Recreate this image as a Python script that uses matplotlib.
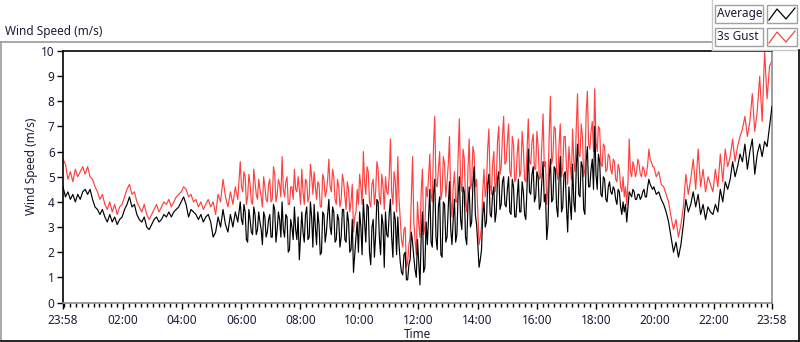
import numpy as np
import matplotlib
matplotlib.use("Agg")
import matplotlib.pyplot as plt
from matplotlib.lines import Line2D
from matplotlib.patches import Rectangle

plt.rcParams['font.family'] = ['Noto Sans', 'DejaVu Sans']

# Samples starting at 23:58; one row per hour (12 values = 5-min, 24 values = 2.5-min)
gust_rows = [
    [5.7, 5.5, 4.9, 5.2, 4.8, 5.3, 5.0, 5.2, 5.4, 5.1, 5.4, 5.0],
    [4.9, 4.6, 4.4, 4.1, 4.3, 3.9, 3.7, 4.0, 3.6, 3.9, 3.5, 3.8],
    [3.9, 4.2, 4.5, 4.7, 4.3, 4.4, 4.0, 3.8, 3.6, 3.9, 3.5, 3.3],
    [3.5, 3.7, 3.9, 3.6, 3.8, 4.0, 3.9, 4.1, 3.8, 4.0, 4.2, 4.3],
    [4.4, 4.6, 4.5, 4.2, 4.3, 4.0, 4.1, 3.8, 4.0, 3.7, 3.9, 4.1],
    [3.8, 4.0, 3.5, 4.3, 4.0, 4.9, 4.2, 3.8, 4.4, 3.9, 4.6, 4.1],
    [5.6, 4.6, 4.4, 5.2, 5.0, 3.9, 4.2, 5.1, 4.7, 4.0, 3.9, 5.3,
     4.8, 4.3, 4.1, 4.9, 4.5, 4.2, 3.8, 5.0, 4.6, 4.1, 4.0, 4.7],
    [4.9, 4.0, 4.1, 5.4, 5.1, 4.0, 4.3, 4.9, 4.7, 4.2, 5.8, 4.5,
     4.2, 4.8, 5.0, 3.9, 3.9, 4.6, 4.6, 4.1, 5.3, 4.5, 4.4, 5.0],
    [4.5, 3.9, 5.3, 4.4, 3.9, 4.9, 4.8, 4.0, 4.2, 5.5, 5.0, 4.3,
     5.2, 4.6, 4.1, 4.8, 4.7, 3.8, 3.8, 5.1, 4.9, 4.2, 4.4, 4.9],
    [5.7, 4.6, 4.4, 5.3, 5.0, 4.1, 3.9, 4.9, 4.6, 3.8, 4.1, 5.1,
     4.8, 4.2, 3.7, 4.8, 4.5, 3.6, 4.0, 4.7, 2.8, 3.4, 3.6, 4.5],
    [3.9, 5.1, 4.6, 3.9, 6.0, 4.8, 4.3, 5.4, 5.2, 4.0, 3.8, 4.7,
     4.9, 3.9, 4.4, 5.6, 5.3, 4.2, 3.9, 5.1, 4.6, 3.7, 5.0, 4.4],
    [4.3, 5.0, 6.5, 4.4, 3.9, 5.2, 4.8, 3.6, 5.8, 4.1, 3.3, 2.5,
     2.2, 2.9, 3.0, 1.4, 1.6, 2.3, 2.6, 4.2, 5.8, 3.2, 2.5, 1.9],
    [4.0, 3.1, 2.6, 4.4, 5.3, 2.7, 3.0, 4.6, 4.2, 5.0, 5.9, 4.3,
     4.0, 6.2, 7.4, 4.7, 4.6, 5.3, 6.0, 4.1, 4.4, 5.8, 5.5, 4.2],
    [4.8, 5.5, 6.6, 4.1, 3.4, 4.6, 5.2, 4.0, 4.0, 5.8, 7.3, 4.8,
     4.4, 6.1, 5.7, 4.0, 3.6, 5.3, 6.5, 4.5, 4.7, 6.2, 5.9, 4.6],
    [4.9, 3.6, 2.3, 2.6, 3.0, 4.4, 5.3, 4.2, 4.6, 6.1, 6.9, 4.7,
     4.3, 5.5, 6.0, 4.4, 4.8, 6.4, 7.0, 5.1, 5.4, 6.6, 7.4, 5.5],
    [5.6, 6.4, 7.1, 5.2, 5.0, 6.6, 6.3, 4.8, 4.9, 5.9, 6.5, 5.0,
     5.2, 6.8, 6.1, 4.9, 4.8, 6.0, 7.3, 5.6, 5.5, 6.4, 6.7, 5.3],
    [5.3, 6.8, 6.2, 4.9, 5.0, 6.3, 7.5, 5.4, 5.6, 3.9, 4.6, 6.7,
     8.2, 5.5, 5.8, 7.0, 6.9, 5.2, 4.9, 6.3, 7.1, 5.0, 5.4, 6.6],
    [6.6, 5.4, 4.7, 6.2, 5.5, 4.9, 6.9, 5.6, 5.2, 7.0, 8.3, 5.9,
     5.8, 7.1, 6.6, 5.0, 5.3, 7.5, 8.4, 6.3, 6.1, 6.8, 7.2, 6.0],
    [8.5, 6.4, 6.0, 7.0, 6.9, 5.5, 5.4, 6.3, 6.2, 5.2, 5.3, 5.9,
     5.8, 5.3, 5.1, 5.7, 5.6, 4.9, 4.8, 5.5, 5.3, 4.6, 4.4, 5.0],
    [4.2, 4.6, 3.9, 4.8, 6.5, 5.2, 5.0, 5.6, 5.4, 5.0, 5.2, 5.7,
     5.5, 5.1, 5.0, 5.4, 5.3, 5.0, 5.1, 5.5, 6.1, 5.7, 5.6, 5.4],
    [5.4, 5.0, 5.2, 4.7, 4.6, 4.3, 4.0, 3.4, 2.9, 3.3, 2.6, 3.1],
    [3.8, 5.1, 4.3, 4.9, 5.7, 4.5, 6.1, 4.6, 5.3, 4.4, 5.0, 4.7],
    [4.4, 5.3, 4.6, 5.9, 4.8, 6.1, 5.4, 5.8, 6.5, 5.6, 6.2, 6.6],
    [6.9, 7.4, 6.6, 7.2, 8.3, 6.8, 7.6, 9.0, 7.2, 10.0, 8.1, 9.4],
    [9.6],
]
avg_rows = [
    [4.6, 4.2, 4.4, 4.1, 4.3, 4.0, 4.3, 4.1, 4.4, 4.5, 4.3, 4.5],
    [4.1, 3.8, 3.7, 3.5, 3.7, 3.4, 3.2, 3.5, 3.2, 3.4, 3.1, 3.3],
    [3.4, 3.7, 3.9, 4.2, 3.8, 3.9, 3.5, 3.3, 3.2, 3.4, 3.0, 2.9],
    [3.1, 3.3, 3.4, 3.2, 3.3, 3.5, 3.4, 3.6, 3.4, 3.6, 3.7, 3.8],
    [4.0, 4.2, 3.9, 3.4, 3.7, 3.6, 3.5, 3.3, 3.5, 3.2, 3.4, 3.5],
    [3.2, 2.6, 2.8, 3.4, 3.0, 3.7, 3.1, 2.8, 3.5, 3.0, 3.6, 3.2],
    [4.0, 3.3, 3.1, 3.9, 3.6, 2.5, 2.4, 3.7, 3.3, 2.8, 2.7, 3.8,
     3.5, 2.7, 2.9, 3.6, 3.2, 2.9, 2.3, 3.6, 3.4, 2.6, 2.8, 3.3],
    [3.5, 2.6, 2.6, 3.9, 3.7, 2.4, 2.9, 3.6, 3.3, 2.6, 4.0, 2.9,
     2.6, 3.5, 3.4, 2.0, 2.1, 3.3, 3.0, 2.5, 3.8, 2.9, 2.5, 3.4],
    [1.7, 2.6, 3.6, 2.8, 2.4, 3.5, 3.8, 2.5, 2.6, 4.0, 3.4, 2.2,
     3.9, 3.0, 2.3, 3.6, 3.1, 1.9, 2.0, 3.6, 3.5, 2.4, 2.8, 3.5],
    [4.1, 3.0, 2.7, 3.8, 3.6, 2.4, 2.5, 3.5, 3.3, 2.2, 2.6, 3.7,
     3.7, 2.5, 2.4, 3.6, 3.2, 2.0, 2.1, 3.3, 1.2, 1.9, 2.6, 3.2],
    [2.0, 3.6, 3.0, 1.9, 4.1, 3.2, 2.4, 3.9, 3.8, 2.0, 1.5, 3.0,
     3.3, 1.8, 2.7, 4.1, 4.0, 2.6, 1.9, 3.5, 3.1, 1.4, 3.6, 2.7],
    [2.6, 3.5, 4.1, 2.6, 1.8, 3.6, 3.3, 1.9, 3.4, 2.3, 1.6, 1.2,
     1.1, 1.9, 2.0, 0.9, 0.9, 1.5, 1.7, 2.8, 2.4, 1.8, 1.3, 1.0],
    [2.5, 1.6, 0.7, 2.6, 3.6, 1.2, 1.4, 3.2, 2.3, 3.4, 4.5, 2.4,
     2.2, 4.3, 4.9, 2.6, 2.1, 3.8, 4.2, 1.9, 1.8, 4.0, 3.9, 2.4],
    [2.6, 3.8, 4.8, 2.9, 2.3, 3.3, 4.1, 2.4, 2.7, 4.3, 5.0, 3.3,
     2.9, 4.6, 4.4, 2.6, 2.3, 3.9, 4.6, 3.0, 3.2, 4.7, 5.4, 3.5],
    [3.1, 2.3, 1.4, 1.7, 2.1, 3.5, 4.0, 3.0, 3.2, 4.7, 5.1, 3.5,
     3.4, 4.3, 4.6, 3.2, 3.6, 4.9, 5.2, 3.7, 3.9, 4.8, 5.0, 3.9],
    [3.8, 4.5, 5.0, 3.6, 3.5, 4.9, 4.6, 3.4, 3.4, 4.2, 4.9, 3.6,
     3.6, 4.8, 4.4, 3.5, 3.3, 4.6, 6.1, 4.4, 4.3, 5.1, 5.4, 4.0],
    [4.2, 5.2, 5.0, 3.7, 3.9, 4.8, 5.6, 4.0, 4.3, 2.5, 3.1, 5.0,
     5.7, 4.0, 4.1, 5.4, 5.3, 3.8, 3.4, 4.9, 5.8, 3.6, 3.8, 5.1],
    [5.2, 3.8, 2.8, 4.6, 3.9, 3.3, 5.5, 4.0, 3.6, 5.4, 6.3, 4.3,
     4.2, 5.6, 5.4, 3.7, 3.5, 5.6, 6.2, 4.6, 4.6, 5.3, 5.7, 4.5],
    [7.0, 5.1, 4.5, 5.9, 5.6, 4.3, 4.2, 5.0, 4.9, 4.1, 4.0, 4.6,
     4.8, 4.4, 4.3, 4.6, 4.5, 4.1, 3.9, 4.5, 4.4, 3.8, 3.5, 4.0],
    [3.6, 3.9, 3.2, 3.8, 4.4, 4.3, 4.2, 4.5, 4.4, 4.1, 4.1, 4.3,
     4.3, 4.1, 4.2, 4.4, 4.5, 4.2, 4.2, 4.6, 4.9, 4.7, 4.6, 4.5],
    [4.6, 4.3, 4.4, 4.1, 3.9, 3.6, 3.2, 2.6, 2.0, 2.4, 1.8, 2.3],
    [3.1, 4.1, 3.6, 3.9, 4.4, 3.8, 4.3, 3.5, 3.9, 3.3, 3.8, 3.6],
    [3.5, 3.9, 3.6, 4.5, 4.0, 4.8, 4.5, 4.9, 5.6, 5.0, 5.4, 5.9],
    [5.6, 6.3, 5.3, 6.0, 6.5, 5.1, 5.9, 6.3, 5.8, 6.4, 6.2, 7.0],
    [7.8],
]
tick_minutes = [0, 122, 242, 362, 482, 602, 722, 842, 962, 1082, 1202, 1322, 1440]
tick_labels = ["23:58", "02:00", "04:00", "06:00", "08:00", "10:00", "12:00",
               "14:00", "16:00", "18:00", "20:00", "22:00", "23:58"]
y_ticks = list(range(0, 11))
series_names = ["Average", "3s Gust"]


def row_times(rows):
    out = []
    for h, r in enumerate(rows):
        n = len(r)
        out.extend(h * 60 + np.arange(n) * (60.0 / n))
    return np.array(out)


gust = np.array([v for r in gust_rows for v in r])
avg = np.array([v for r in avg_rows for v in r])
t_g = row_times(gust_rows)
t_a = row_times(avg_rows)

W, H = 800, 342
fig = plt.figure(figsize=(W / 100, H / 100), dpi=100)
fig.patch.set_facecolor('white')


def fx(px):
    return px / W


def fy(py):
    return 1 - py / H


txt_col = '#1c1c3a'
ax = fig.add_axes([fx(63), fy(302.5), fx(772) - fx(63), fy(51) - fy(302.5)])
ax.plot(t_g, gust, color='#ff4040', lw=0.85, zorder=2)
ax.plot(t_a, avg, color='black', lw=0.85, zorder=3)
ax.set_xlim(0, 1440)
ax.set_ylim(0, 10)
ax.set_yticks(y_ticks)
ax.set_xticks(tick_minutes)
ax.set_xticklabels(tick_labels)
ax.set_xticks(np.arange(2, 1440, 12), minor=True)
ax.tick_params(axis='both', which='major', length=4, width=1, color='black',
               labelsize=8.5, labelcolor=txt_col, pad=2)
ax.tick_params(axis='x', which='minor', length=3, width=1, color='black')
ax.tick_params(axis='x', which='major', pad=4)
for s in ['top', 'left']:
    ax.spines[s].set_color('black')
    ax.spines[s].set_linewidth(1.2)
for s in ['right', 'bottom']:
    ax.spines[s].set_color('#8c8c8c')
    ax.spines[s].set_linewidth(1.2)
ax.set_xlabel('Time', fontsize=8.5, color=txt_col, labelpad=1)
ax.set_ylabel('Wind Speed (m/s)', fontsize=8.5, color=txt_col)
ax.yaxis.set_label_coords(-0.035, 0.54)

# Title above plot
fig.text(fx(5), fy(31), 'Wind Speed (m/s)', fontsize=8.5, color=txt_col,
         ha='left', va='center')

# Outer frame lines
gray = '#9a9a9a'
fig.add_artist(Line2D([fx(0.5), fx(712)], [fy(42), fy(42)], color=gray, lw=1.2))
fig.add_artist(Line2D([fx(0.5), fx(0.5)], [fy(42), fy(341)], color=gray, lw=1.2))
fig.add_artist(Line2D([fx(712), fx(712)], [fy(0), fy(50)], color='#c8c8c8', lw=1.0))
fig.add_artist(Line2D([fx(712), fx(799)], [fy(50), fy(50)], color='#c8c8c8', lw=1.0))
fig.add_artist(Line2D([fx(799), fx(799)], [fy(50), fy(341)], color='black', lw=1.2))
fig.add_artist(Line2D([fx(0.5), fx(799)], [fy(341), fy(341)], color='black', lw=1.2))

# Legend
leg_colors = ['black', '#ff4040']
for i, (name, col) in enumerate(zip(series_names, leg_colors)):
    top = 5 + i * 23
    bot = top + 18
    fig.add_artist(Rectangle((fx(715), fy(bot)), fx(763) - fx(715), fy(top) - fy(bot),
                             facecolor='white', edgecolor='#a0a0a0', lw=1.0))
    fig.text(fx(717), fy((top + bot) / 2), name, fontsize=8.5, color=txt_col,
             ha='left', va='center')
    fig.add_artist(Rectangle((fx(767), fy(bot)), fx(797) - fx(767), fy(top) - fy(bot),
                             facecolor='white', edgecolor='#a0a0a0', lw=1.0))
    zx = [769, 777, 786, 795]
    zy = [bot - 3, top + 4, bot - 4, top + 3]
    fig.add_artist(Line2D([fx(v) for v in zx], [fy(v) for v in zy], color=col, lw=0.9))

fig.savefig('out.png', dpi=100)
